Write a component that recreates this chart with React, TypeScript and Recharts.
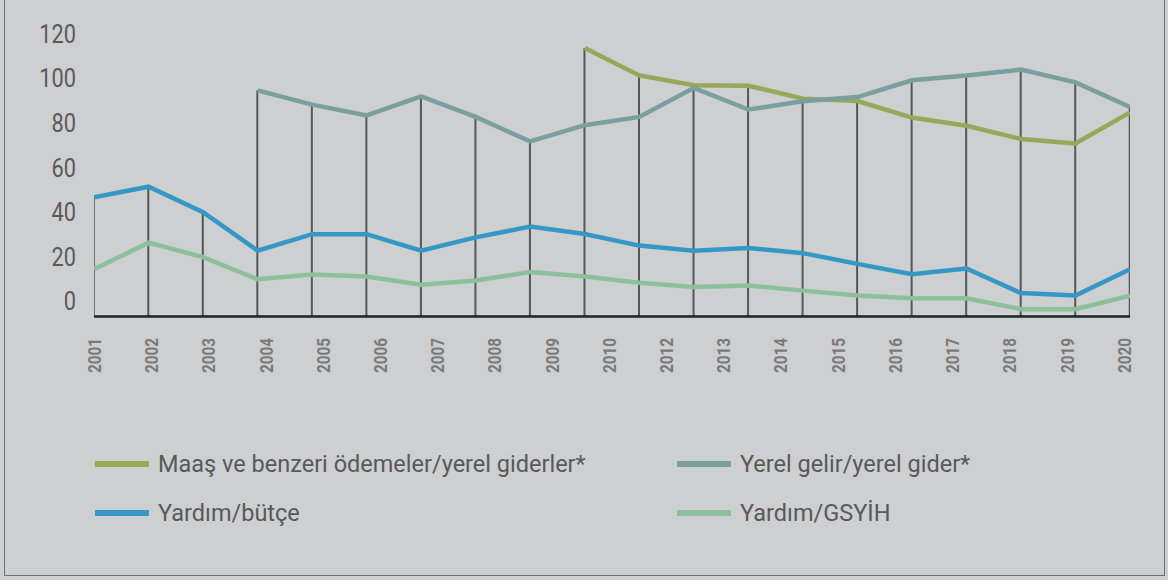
import { ComposedChart, Line, Bar, XAxis, YAxis } from 'recharts';

// 20 plotted points, but the source only prints 19 year labels (no 2011),
// spread evenly over a slightly narrower span than the points
const xLabels = ['2001', '2002', '2003', '2004', '2005', '2006', '2007', '2008', '2009', '2010',
  '2012', '2013', '2014', '2015', '2016', '2017', '2018', '2019', '2020'];
const labelStep = 1.0494;

const maas = [null, null, null, null, null, null, null, null, null,
  120.4, 108.1, 103.7, 103.5, 97.7, 96.6, 89.2, 85.5, 79.6, 77.6, 91.5];
const yerelGelir = [null, null, null, 101.4, 95, 90.2, 98.7, 89.5, 78.5, 85.8,
  89.5, 102.5, 92.8, 96.5, 98.4, 105.9, 108.1, 110.7, 105, 94];
const yardimButce = [53.4, 58.2, 46.8, 29.5, 36.9, 36.9, 29.5, 35.5, 40.3, 37,
  31.8, 29.5, 30.7, 28.4, 23.6, 19, 21.5, 10.5, 9.4, 21.2];
const yardimGsyih = [21.2, 33.1, 26.6, 16.7, 18.8, 17.9, 14.2, 16.1, 20, 17.9,
  15.1, 13.2, 13.9, 11.6, 9.4, 8.2, 8.2, 3.3, 3.3, 9.3];

const yTicks = [0, 20, 40, 60, 80, 100, 120];

const series = [
  { key: 'maas', name: 'Maaş ve benzeri ödemeler/yerel giderler*', color: '#98a85a' },
  { key: 'yerelGelir', name: 'Yerel gelir/yerel gider*', color: '#7a9f9f' },
  { key: 'yardimButce', name: 'Yardım/bütçe', color: '#3498c6' },
  { key: 'yardimGsyih', name: 'Yardım/GSYİH', color: '#8cc09d' },
];

const data = yardimButce.map((_, i) => {
  const vals = [maas[i], yerelGelir[i], yardimButce[i], yardimGsyih[i]].filter(v => v != null) as number[];
  return {
    pos: i,
    maas: maas[i],
    yerelGelir: yerelGelir[i],
    yardimButce: yardimButce[i],
    yardimGsyih: yardimGsyih[i],
    drop: Math.max(...vals),
  };
});

const YTick = (props: any) => (
  <text transform={`translate(76,${props.y - 15}) scale(0.87,1)`} dy="0.355em" textAnchor="end"
    fontSize={25} fontFamily="Roboto" fill="#5a5a5a">
    {props.payload.value}
  </text>
);

const XTick = (props: any) => (
  <text transform={`translate(${props.x},338) rotate(-90)`} dy="0.36em" textAnchor="end"
    fontSize={19} fontWeight="bold" fontFamily="Roboto" fill="#7a7a7a"
    textLength={35} lengthAdjust="spacingAndGlyphs">
    {xLabels[Math.round(props.payload.value / labelStep)]}
  </text>
);

export default function App() {
  return (
    <div style={{ position: 'absolute', left: 0, top: 0, width: 1168, height: 580, background: '#cdcfd1', overflow: 'hidden' }}>
      <div style={{ position: 'absolute', left: 4, top: -4, width: 1161, height: 580, border: '1.5px solid #6e6e6e', boxSizing: 'border-box' }} />
      <ComposedChart width={1168} height={580} data={data}
        margin={{ top: 48, right: 38, left: 0, bottom: 0 }}>
        <XAxis dataKey="pos" type="number" domain={[0, 19]} allowDataOverflow
          ticks={xLabels.map((_, i) => i * labelStep)} interval={0} height={263.5}
          axisLine={{ stroke: '#222', strokeWidth: 2.5 }} tickLine={false} tick={<XTick />} />
        <YAxis domain={[0, 120]} ticks={yTicks} width={94} axisLine={false} tickLine={false} tick={<YTick />} />
        <Bar dataKey="drop" barSize={2} fill="#575757" isAnimationActive={false} />
        {series.map(s => (
          <Line key={s.key} type="linear" dataKey={s.key} stroke={s.color}
            strokeWidth={4.5} dot={false} activeDot={false} isAnimationActive={false} />
        ))}
      </ComposedChart>
      {series.map((s, i) => (
        <div key={s.key} style={{
          position: 'absolute', left: i % 2 === 0 ? 95 : 677, top: i < 2 ? 464 : 513,
          transform: 'translateY(-50%)', display: 'flex', alignItems: 'center',
          fontFamily: 'Roboto', fontSize: 23.5, color: '#595959', whiteSpace: 'nowrap',
        }}>
          <span style={{ display: 'inline-block', width: 54, height: 6, background: s.color, marginRight: 9 }} />
          {s.name}
        </div>
      ))}
    </div>
  );
}
